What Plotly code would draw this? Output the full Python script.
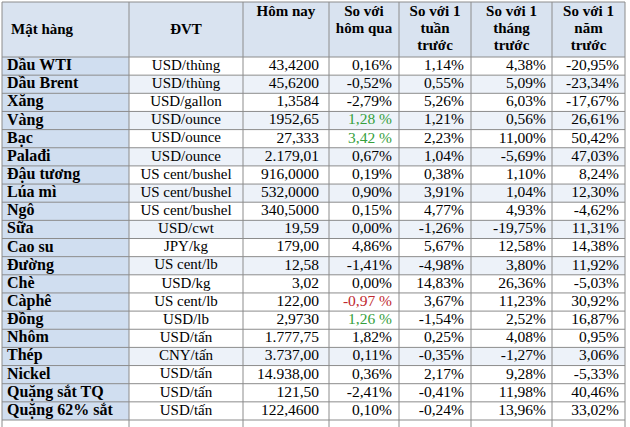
import plotly.graph_objects as go

# Bảng giá hàng hóa
mat_hang = ['Dầu WTI', 'Dầu Brent', 'Xăng', 'Vàng', 'Bạc', 'Palađi', 'Đậu tương',
            'Lúa mì', 'Ngô', 'Sữa', 'Cao su', 'Đường', 'Chè', 'Càphê', 'Đồng',
            'Nhôm', 'Thép', 'Nickel', 'Quặng sắt TQ', 'Quặng 62% sắt']
dvt = ['USD/thùng', 'USD/thùng', 'USD/gallon', 'USD/ounce', 'USD/ounce', 'USD/ounce',
       'US cent/bushel', 'US cent/bushel', 'US cent/bushel', 'USD/cwt', 'JPY/kg',
       'US cent/lb', 'USD/kg', 'US cent/lb', 'USD/lb', 'USD/tấn', 'CNY/tấn',
       'USD/tấn', 'USD/tấn', 'USD/tấn']
hom_nay = ['43,4200', '45,6200', '1,3584', '1952,65', '27,333', '2.179,01', '916,0000',
           '532,0000', '340,5000', '19,59', '179,00', '12,58', '3,02', '122,00',
           '2,9730', '1.777,75', '3.737,00', '14.938,00', '121,50', '122,4600']
so_hom_qua = ['0,16%', '-0,52%', '-2,79%', '1,28 %', '3,42 %', '0,67%', '0,19%', '0,90%',
              '0,15%', '0,00%', '4,86%', '-1,41%', '0,00%', '-0,97 %', '1,26 %', '1,82%',
              '0,11%', '0,36%', '-2,41%', '0,10%']
so_tuan = ['1,14%', '0,55%', '5,26%', '1,21%', '2,23%', '1,04%', '0,38%', '3,91%', '4,77%',
           '-1,26%', '5,67%', '-4,98%', '14,83%', '3,67%', '-1,54%', '0,25%', '-0,35%',
           '2,17%', '-0,41%', '-0,24%']
so_thang = ['4,38%', '5,09%', '6,03%', '0,56%', '11,00%', '-5,69%', '1,10%', '1,04%',
            '4,93%', '-19,75%', '12,58%', '3,80%', '26,36%', '11,23%', '2,52%', '4,08%',
            '-1,27%', '9,28%', '11,98%', '13,96%']
so_nam = ['-20,95%', '-23,34%', '-17,67%', '26,61%', '50,42%', '47,03%', '8,24%', '12,30%',
          '-4,62%', '11,31%', '14,38%', '11,92%', '-5,03%', '30,92%', '16,87%', '0,95%',
          '3,06%', '-5,33%', '40,46%', '33,02%']
header_lines = [['Mật hàng'], ['ĐVT'], ['Hôm nay'], ['So với', 'hôm qua'],
                ['So với 1', 'tuần', 'trước'], ['So với 1', 'tháng', 'trước'],
                ['So với 1', 'năm', 'trước']]

columns = [mat_hang, dvt, hom_nay, so_hom_qua, so_tuan, so_thang, so_nam]
tinted_rows = [1, 3, 5, 7, 9, 11, 16]

# layout in pixels
edges = [2, 129, 243, 329, 399, 471, 552, 625]
pads = [5, 0, 10, 7, 7, 6, 6]
sizes = [16, 15, 15.5, 15.5, 15.5, 15.5, 15.5]
top, head_h, row_h = 2, 55, 18.15
aligns = ['left', 'center', 'right', 'right', 'right', 'right', 'right']
font_fam = 'Liberation Serif, Times New Roman, serif'
line_col = '#8c8c8c'
n = len(mat_hang)
body_top = top + head_h
row_y = [body_top + (i + 0.5) * row_h for i in range(n)]
bottom = body_top + n * row_h

shapes = []
# fills
shapes.append(dict(type='rect', x0=edges[0], x1=edges[-1], y0=top, y1=body_top,
                   fillcolor='#d9e3f0', line_width=0, layer='below'))
shapes.append(dict(type='rect', x0=edges[0], x1=edges[1], y0=body_top, y1=bottom,
                   fillcolor='#d0def0', line_width=0, layer='below'))
for i in tinted_rows:
    shapes.append(dict(type='rect', x0=edges[1], x1=edges[-1],
                       y0=body_top + i * row_h, y1=body_top + (i + 1) * row_h,
                       fillcolor='#edf2f9', line_width=0, layer='below'))
# grid lines
for x in edges:
    shapes.append(dict(type='line', x0=x, x1=x, y0=top, y1=430,
                       line=dict(color=line_col, width=1)))
for k in range(n + 2):
    y = top if k == 0 else body_top + (k - 1) * row_h
    shapes.append(dict(type='line', x0=edges[0], x1=edges[-1], y0=y, y1=y,
                       line=dict(color=line_col, width=1)))

fig = go.Figure()

def pct_color(s):
    if s.endswith(' %'):
        return '#c0282e' if s.startswith('-') else '#35a03c'
    return 'black'

for c, vals in enumerate(columns):
    a = aligns[c]
    if a == 'left':
        x, pos = edges[c] + pads[c], 'middle right'
    elif a == 'center':
        x, pos = (edges[c] + edges[c + 1]) / 2, 'middle center'
    else:
        x, pos = edges[c + 1] - pads[c], 'middle left'
    txt = ['<b>%s</b>' % v for v in vals] if c == 0 else vals
    colors = [pct_color(v) for v in vals] if c == 3 else 'black'
    fig.add_trace(go.Scatter(
        x=[x] * n, y=row_y, mode='text', text=txt, textposition=pos,
        textfont=dict(family=font_fam, size=sizes[c], color=colors),
        hoverinfo='skip', showlegend=False, cliponaxis=False,
    ))

# header
for c, lines in enumerate(header_lines):
    if c == 0:
        x, pos = edges[0] + 9, 'middle right'
    else:
        x, pos = (edges[c] + edges[c + 1]) / 2, 'middle center'
    if c < 2:
        ys = [top + head_h / 2 + 1]
    else:
        ys = [top + 10 + 17 * k for k in range(len(lines))]
    fig.add_trace(go.Scatter(
        x=[x] * len(lines), y=ys, mode='text',
        text=['<b>%s</b>' % t for t in lines], textposition=pos,
        textfont=dict(family=font_fam, size=15, color='black'),
        hoverinfo='skip', showlegend=False, cliponaxis=False,
    ))

fig.update_layout(
    width=630, height=427,
    margin=dict(l=0, r=0, t=0, b=0),
    paper_bgcolor='white', plot_bgcolor='white',
    xaxis=dict(range=[0, 630], visible=False, fixedrange=True),
    yaxis=dict(range=[427, 0], visible=False, fixedrange=True),
    shapes=shapes,
)

# page margin off so the figure sits in the window corner
fig.write_html("out.html", config={'displayModeBar': False},
               post_script="document.body.style.margin='0';")
